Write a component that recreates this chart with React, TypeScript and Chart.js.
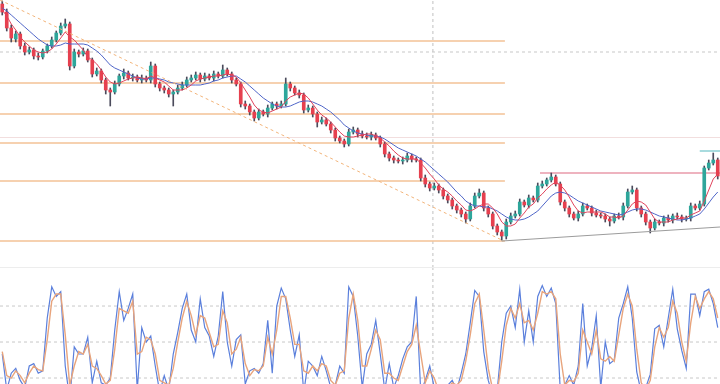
import React, { useEffect, useRef } from "react";
import { Chart, registerables } from "chart.js";
Chart.register(...registerables);

// ---- price data (points) ----
const openP = [296,288,272,261,266,254,248,250,244,243,249,254,260,267,274,276,234,248,246,249,240,226,229,220,210,208,216,224,227,222,223,220,222,220,234,216,212,210,206,208,212,215,220,222,225,221,224,222,226,224,230,226,220,216,196,194,188,182,188,186,192,196,194,196,216,212,207,205,190,192,186,178,180,176,170,162,159,156,168,170,166,164,163,165,162,156,146,142,140,139,140,144,141,140,122,116,112,114,110,104,100,94,90,86,81,94,104,107,92,86,74,68,64,78,84,86,98,95,102,100,114,116,120,123,116,98,92,86,82,86,94,92,87,85,84,81,79,84,83,94,108,110,92,86,78,72,78,77,82,80,84,83,81,82,94,92,96,132,137,140];
const highP = [299,291,275,269,268,257,253,252,247,251,256,263,269,277,281,278,251,250,252,251,242,232,231,222,212,219,226,231,229,226,225,225,224,238,236,218,214,212,210,215,218,223,225,228,227,227,226,229,228,235,232,228,222,218,199,196,190,191,190,195,198,198,199,222,218,214,210,207,195,194,188,183,182,178,172,164,161,171,173,172,169,167,168,167,164,158,148,144,142,143,147,146,143,142,125,118,117,116,112,106,102,96,92,88,97,107,111,109,94,88,76,70,81,87,89,101,100,105,104,117,119,122,127,125,118,100,94,88,89,97,96,94,90,87,86,83,86,87,97,111,114,112,94,88,80,81,80,84,85,86,87,85,84,97,96,99,134,140,147,142];
const lowP = [285,269,258,258,251,245,246,241,240,241,247,252,258,265,272,230,232,243,244,238,223,224,217,206,194,206,214,221,220,219,218,217,218,217,213,209,207,203,194,206,210,213,218,220,218,219,220,219,222,222,224,217,214,193,191,185,179,180,184,183,190,191,192,194,209,205,202,187,188,183,173,176,174,167,159,157,153,154,166,163,162,161,160,160,153,143,139,137,137,136,138,138,138,119,113,109,110,107,101,97,91,87,83,77,79,92,102,89,83,71,65,60,61,76,82,84,93,92,98,98,112,114,118,114,95,89,83,80,79,84,90,84,83,82,78,74,77,81,80,92,106,89,83,75,67,70,75,74,78,77,81,78,79,79,90,90,94,130,135,121];
const closeP = [288,272,262,266,254,248,250,244,243,249,254,260,267,274,276,234,248,246,249,240,226,229,220,210,208,216,224,227,222,223,220,222,220,234,216,212,210,206,208,212,215,220,222,225,221,224,222,226,224,230,226,220,216,196,194,188,182,188,186,192,196,194,196,216,212,207,205,190,192,186,178,180,176,170,162,159,156,168,170,166,164,163,165,162,156,146,142,140,139,140,144,141,140,122,116,112,114,110,104,100,94,90,86,81,94,104,107,92,86,74,68,64,78,84,86,98,95,102,100,114,116,120,123,116,98,92,86,82,86,94,92,87,85,84,81,79,84,83,94,108,110,92,86,78,72,78,77,82,80,84,83,81,82,94,92,96,132,137,140,124];

// ---- moving averages ----
const maFast = [290,284,276,270,263,258,254,250,248,247,248,251,256,262,268,263,260,255,250,243,240,236,230,223,218,216,217,219,221,222,223,222,221,224,222,220,218,214,210,210,210,212,215,219,221,222,223,224,224,225,226,225,223,217,210,203,195,190,188,187,189,191,193,199,203,205,207,206,202,196,190,185,182,178,173,168,164,163,163,164,165,166,166,164,162,158,154,149,145,142,141,141,141,137,132,126,121,115,111,108,104,99,95,90,89,91,94,96,96,92,86,78,74,74,76,82,87,93,96,102,106,111,115,118,115,110,103,95,89,87,88,88,88,88,86,83,83,82,84,90,96,99,98,95,88,81,78,78,78,80,81,82,82,85,87,89,99,110,121,126];
const maSlow = [292,289,285,281,277,273,269,265,261,258,255,254,254,255,257,256,256,256,256,255,252,249,245,240,235,232,230,228,226,224,222,221,221,222,222,221,220,218,217,216,215,215,215,215,215,216,217,219,220,222,223,224,224,221,218,214,210,206,202,199,196,194,193,193,194,196,198,199,199,198,196,194,191,188,184,180,175,172,169,167,166,165,164,164,163,161,158,155,152,150,148,146,144,141,138,134,130,126,122,118,113,108,104,99,96,94,94,93,93,91,89,86,83,81,80,80,81,83,86,89,94,99,104,107,108,107,105,102,99,97,95,93,91,89,88,87,86,85,86,88,90,91,91,90,88,86,84,83,82,81,80,80,81,82,84,86,91,97,103,108];

// ---- stochastic ----
const stochK = [40,10,24,28,18,12,30,32,24,26,70,96,88,92,30,2,46,40,40,54,16,34,16,14,20,60,92,68,78,90,10,62,50,55,30,8,22,10,40,58,78,90,60,50,86,62,55,38,55,92,50,30,52,56,15,26,28,24,32,68,24,80,95,86,60,38,56,8,34,30,22,38,26,12,14,30,24,96,88,55,12,40,48,68,40,10,32,12,22,36,46,50,88,8,18,30,12,6,10,14,18,10,24,40,66,93,88,42,18,6,10,50,74,80,62,94,50,76,50,88,97,88,95,82,10,14,22,14,30,82,30,45,72,12,50,32,35,70,82,96,70,25,8,12,23,61,64,46,70,94,61,43,28,90,90,72,92,94,82,62];
const stochD = [42,22,20,26,22,16,24,30,27,26,52,84,90,90,56,14,30,42,40,48,30,28,22,15,18,44,78,76,74,84,40,42,54,52,40,18,16,14,28,50,70,84,72,56,72,70,58,46,48,76,66,40,44,54,32,22,27,26,30,54,40,60,88,88,70,48,48,26,24,30,26,32,30,18,14,24,26,70,90,68,30,30,44,60,52,24,24,20,18,30,42,48,64,40,16,26,20,9,9,12,16,14,18,34,56,82,90,60,28,10,8,34,64,78,70,82,66,68,60,74,92,90,92,86,40,14,18,17,24,60,50,40,60,36,34,38,34,56,78,90,80,44,16,10,18,46,62,54,62,84,74,50,34,66,88,78,86,92,86,70];
const stochLevels = [80, 50, 20];

// ---- drawings ----
const fibLevels = [259, 217, 186, 157, 119, 59];
const fibSpan = [-0.5, 111.7];
const gridPrice = 248;
const markerPrice = 162.5;
const resistancePrice = 127;
const resistanceSpan = [119.5, 159.5];
const highMarkPrice = 149;
const highMarkSpan = [155, 159.5];
const trendDown = [[-0.5, 300], [111, 60]];
const trendUp = [[111, 59], [159.5, 73]];
const cursorIndex = 95.7;

const X_MIN = -0.5;
const X_MAX = closeP.length - 0.5;
const P_MIN = 32;
const P_MAX = 300;
const S_MIN = 15;
const S_MAX = 111.7;

const UP = "#2ea69b";
const DOWN = "#e6404f";
const WICK = "#4b4b5c";

function hLine(y: number, x0: number, x1: number, color: string, width: number, dash: number[] = [], order = 6) {
  return {
    type: "line" as const,
    data: [{ x: x0, y }, { x: x1, y }],
    borderColor: color,
    borderWidth: width,
    borderDash: dash,
    pointRadius: 0,
    order,
  };
}

function seg(pts: number[][], color: string, width: number, dash: number[] = [], order = 6) {
  return {
    type: "line" as const,
    data: pts.map(([x, y]) => ({ x, y })),
    borderColor: color,
    borderWidth: width,
    borderDash: dash,
    pointRadius: 0,
    order,
  };
}

function series(vals: number[], color: string, width: number, order = 1) {
  return {
    type: "line" as const,
    data: vals.map((v, i) => ({ x: i, y: v })),
    borderColor: color,
    borderWidth: width,
    pointRadius: 0,
    tension: 0,
    order,
  };
}

const candleColor = (ctx: any) =>
  closeP[ctx.dataIndex] >= openP[ctx.dataIndex] ? UP : DOWN;

export default function App() {
  const topRef = useRef<HTMLCanvasElement>(null);
  const botRef = useRef<HTMLCanvasElement>(null);

  useEffect(() => {
    const base = {
      responsive: false,
      maintainAspectRatio: false,
      animation: false as const,
      events: [] as any[],
      layout: { padding: 0 },
      plugins: { legend: { display: false }, tooltip: { enabled: false } },
    };

    const top = new Chart(topRef.current!, {
      type: "line",
      data: {
        datasets: [
          ...fibLevels.map((l) => hLine(l, fibSpan[0], fibSpan[1], "rgba(244,198,156,0.8)", 1.8, [], 8)),
          hLine(gridPrice, X_MIN, X_MAX, "#c8c8c8", 1, [3, 3], 8),
          hLine(markerPrice, X_MIN, X_MAX, "#f2dede", 1, [], 8),
          seg([[cursorIndex, P_MIN], [cursorIndex, P_MAX]], "#c0c0c0", 1, [3, 3], 8),
          hLine(resistancePrice, resistanceSpan[0], resistanceSpan[1], "#e99aaa", 1.5, [], 7),
          hLine(highMarkPrice, highMarkSpan[0], highMarkSpan[1], "#6fc4c8", 1.2, [], 7),
          {
            type: "bar" as const,
            data: highP.map((h, i) => ({ x: i, y: [lowP[i], h] })),
            backgroundColor: WICK,
            barThickness: 1,
            grouped: false,
            order: 5,
          },
          {
            type: "bar" as const,
            data: openP.map((o, i) => ({ x: i, y: [o, closeP[i]] })),
            backgroundColor: candleColor,
            barThickness: 3,
            minBarLength: 1,
            grouped: false,
            order: 4,
          },
          series(maSlow, "#5066c8", 1, 2),
          series(maFast, "#e0435c", 1, 1),
          seg(trendDown, "#f2b47a", 1, [3, 3], 0),
          seg(trendUp, "#9c9c9c", 1.2, [], 0),
        ] as any,
      },
      options: {
        ...base,
        scales: {
          x: { type: "linear", min: X_MIN, max: X_MAX, display: false, offset: false },
          y: { type: "linear", min: P_MIN, max: P_MAX, display: false },
        },
      } as any,
    });

    const bot = new Chart(botRef.current!, {
      type: "line",
      data: {
        datasets: [
          ...stochLevels.map((l) => hLine(l, X_MIN, X_MAX, "#c8c8c8", 1, [3, 3], 8)),
          seg([[cursorIndex, S_MIN], [cursorIndex, S_MAX]], "#c0c0c0", 1, [3, 3], 8),
          series(stochK, "#5a7fdc", 1.2, 2),
          series(stochD, "#e8a47c", 1.4, 1),
        ] as any,
      },
      options: {
        ...base,
        scales: {
          x: { type: "linear", min: X_MIN, max: X_MAX, display: false, offset: false },
          y: { type: "linear", min: S_MIN, max: S_MAX, display: false },
        },
      } as any,
    });

    return () => {
      top.destroy();
      bot.destroy();
    };
  }, []);

  return (
    <div style={{ position: "absolute", left: 0, top: 0, width: 720, height: 384, background: "#fff", overflow: "hidden" }}>
      <canvas ref={topRef} width={720} height={268} style={{ position: "absolute", left: 0, top: 0, width: 720, height: 268 }} />
      <div style={{ position: "absolute", left: 0, top: 267, width: 720, height: 1, background: "#ededed" }} />
      <canvas ref={botRef} width={720} height={116} style={{ position: "absolute", left: 0, top: 268, width: 720, height: 116 }} />
    </div>
  );
}
